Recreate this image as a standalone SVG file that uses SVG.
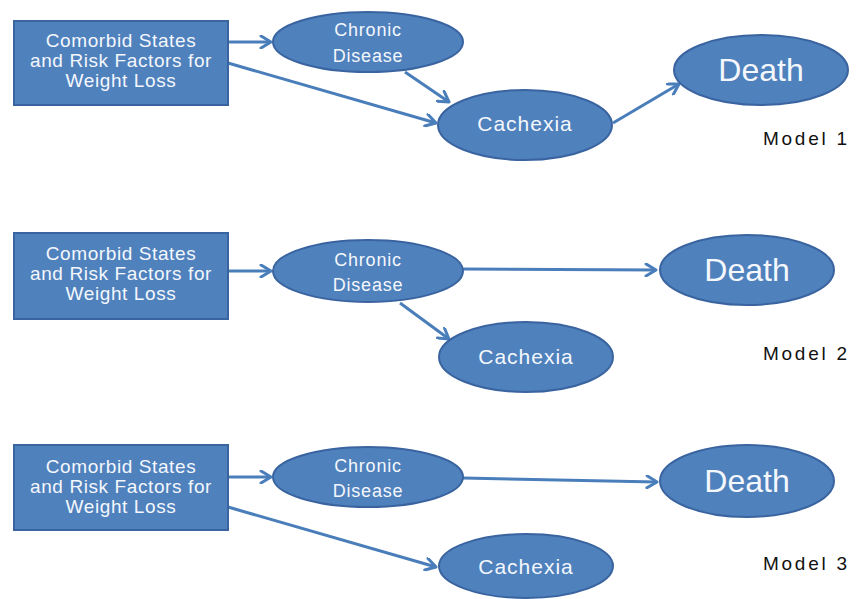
<svg xmlns="http://www.w3.org/2000/svg" width="860" height="599" viewBox="0 0 860 599">
<style>
.node{fill:#4F81BD;stroke:#3A64A0;stroke-width:2}
.t{fill:#F4F7FC;font-family:"Liberation Sans",Arial,sans-serif;text-anchor:middle}
.box{font-size:19px;letter-spacing:0.6px}
.cd{font-size:18px;letter-spacing:0.8px}
.cx{font-size:21px;letter-spacing:1px}
.de{font-size:32px}
.model{fill:#111;font-family:"Liberation Sans",Arial,sans-serif;font-size:19px}
.edge{stroke:#4A7EBB;stroke-width:3;fill:none;marker-end:url(#arr)}
</style>
<defs>
<marker id="arr" viewBox="0 0 14 14" refX="12" refY="7" markerWidth="14" markerHeight="14" markerUnits="userSpaceOnUse" orient="auto">
<path d="M2,1 L12,7 L2,13" fill="none" stroke="#4A7EBB" stroke-width="3" stroke-linecap="round" stroke-linejoin="round"/>
</marker>
</defs>
<rect width="860" height="599" fill="#FFFFFF"/>

<g id="connectors">
<line class="edge" x1="228" y1="42" x2="271" y2="42"/>
<line class="edge" x1="228" y1="63" x2="436" y2="123"/>
<line class="edge" x1="405" y1="72" x2="449" y2="102"/>
<line class="edge" x1="613" y1="123" x2="679" y2="84"/>

<line class="edge" x1="228" y1="271" x2="271" y2="271"/>
<line class="edge" x1="463" y1="269" x2="656" y2="270"/>
<line class="edge" x1="400" y1="303" x2="449" y2="339"/>

<line class="edge" x1="228" y1="477" x2="271" y2="477"/>
<line class="edge" x1="463" y1="478" x2="657" y2="482"/>
<line class="edge" x1="228" y1="507" x2="436" y2="567"/>
</g>

<g id="m1-comorbid">
<rect class="node" x="14" y="21" width="214" height="84"/>
<text class="t box" x="121" y="47">Comorbid States</text>
<text class="t box" x="121" y="67">and Risk Factors for</text>
<text class="t box" x="121" y="87">Weight Loss</text>
</g>
<g id="m1-chronic">
<ellipse class="node" cx="368" cy="42" rx="95" ry="30"/>
<text class="t cd" x="368" y="36">Chronic</text>
<text class="t cd" x="368" y="62">Disease</text>
</g>
<g id="m1-cachexia">
<ellipse class="node" cx="525" cy="125" rx="87" ry="35"/>
<text class="t cx" x="525" y="131">Cachexia</text>
</g>
<g id="m1-death">
<ellipse class="node" cx="761" cy="70" rx="87" ry="35"/>
<text class="t de" x="761" y="81">Death</text>
</g>
<text class="model" x="763" y="145" textLength="84" lengthAdjust="spacing">Model 1</text>

<g id="m2-comorbid">
<rect class="node" x="14" y="233" width="214" height="86"/>
<text class="t box" x="121" y="260">Comorbid States</text>
<text class="t box" x="121" y="280">and Risk Factors for</text>
<text class="t box" x="121" y="300">Weight Loss</text>
</g>
<g id="m2-chronic">
<ellipse class="node" cx="368" cy="271" rx="95" ry="31"/>
<text class="t cd" x="368" y="266">Chronic</text>
<text class="t cd" x="368" y="291">Disease</text>
</g>
<g id="m2-cachexia">
<ellipse class="node" cx="526" cy="357" rx="87" ry="35"/>
<text class="t cx" x="526" y="364">Cachexia</text>
</g>
<g id="m2-death">
<ellipse class="node" cx="747" cy="270" rx="87" ry="35"/>
<text class="t de" x="747" y="281">Death</text>
</g>
<text class="model" x="763" y="360" textLength="84" lengthAdjust="spacing">Model 2</text>

<g id="m3-comorbid">
<rect class="node" x="14" y="445" width="214" height="85"/>
<text class="t box" x="121" y="473">Comorbid States</text>
<text class="t box" x="121" y="493">and Risk Factors for</text>
<text class="t box" x="121" y="513">Weight Loss</text>
</g>
<g id="m3-chronic">
<ellipse class="node" cx="368" cy="477" rx="95" ry="30"/>
<text class="t cd" x="368" y="472">Chronic</text>
<text class="t cd" x="368" y="497">Disease</text>
</g>
<g id="m3-cachexia">
<ellipse class="node" cx="526" cy="566" rx="87" ry="32"/>
<text class="t cx" x="526" y="574">Cachexia</text>
</g>
<g id="m3-death">
<ellipse class="node" cx="747" cy="481" rx="87" ry="36"/>
<text class="t de" x="747" y="492">Death</text>
</g>
<text class="model" x="763" y="570" textLength="84" lengthAdjust="spacing">Model 3</text>
</svg>
